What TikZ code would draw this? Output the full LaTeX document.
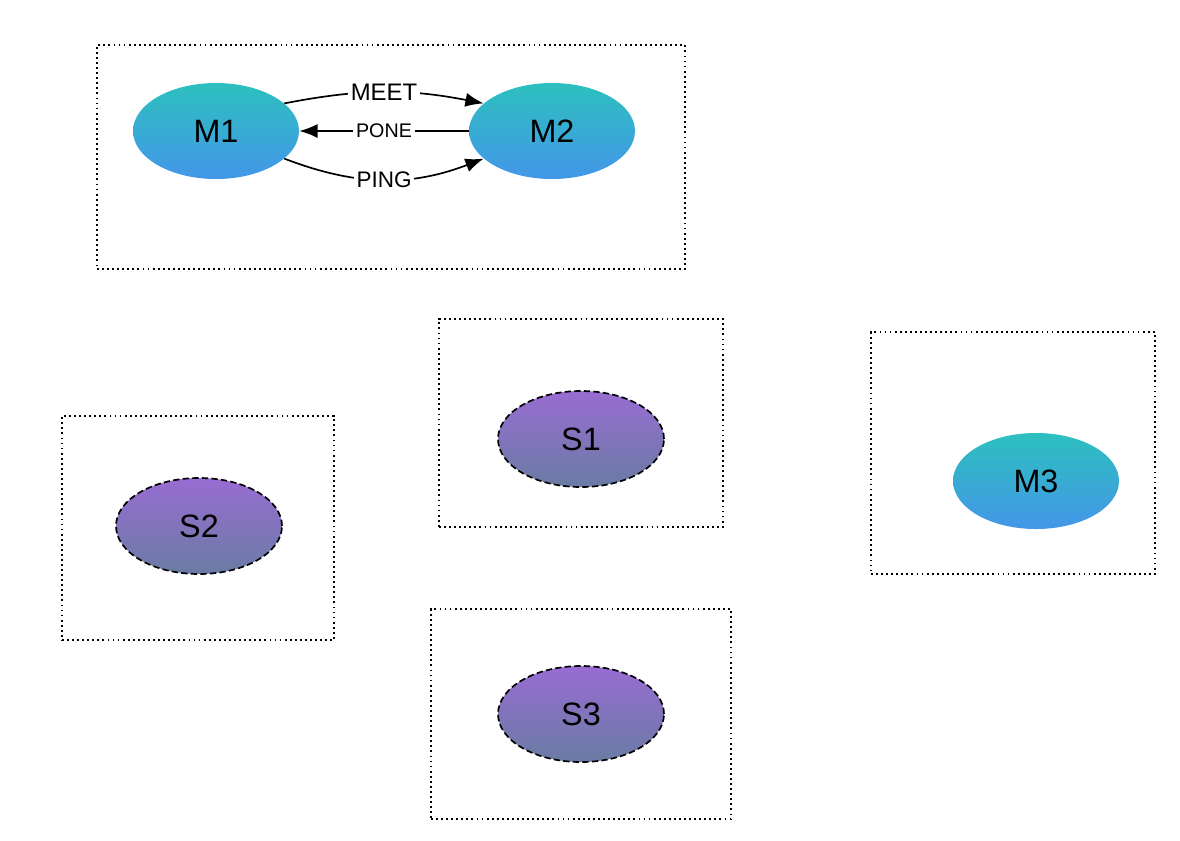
\documentclass[tikz,border=0pt]{standalone}
\usepackage{fontspec}
\setmainfont{Liberation Sans}
\usetikzlibrary{shapes.geometric,arrows.meta}
\definecolor{masterTop}{RGB}{44, 192, 190}
\definecolor{masterBottom}{RGB}{68, 150, 232}
\definecolor{slaveTop}{RGB}{152, 108, 210}
\definecolor{slaveBottom}{RGB}{106, 124, 164}

\begin{document}
\begin{tikzpicture}[
      frame/.style={draw, line width=1.1pt, dash pattern=on 1.3pt off 2.3pt, inner sep=0pt},
      master/.style={ellipse, minimum width=4.15cm, minimum height=2.4cm, inner sep=0pt,
        top color=masterTop, bottom color=masterBottom, font=\fontsize{23}{27}\selectfont},
      slave/.style={master, top color=slaveTop, bottom color=slaveBottom,
        draw, line width=1.2pt, dash pattern=on 4.5pt off 2.3pt},
      msg/.style={fill=white, inner sep=2pt},
      arrow/.style={-{Latex[length=13pt, width=10pt]}, line width=1.2pt}
    ]
      \useasboundingbox (0,0) rectangle (29.5,-21);

      % Frames
      \node[frame, minimum width=14.7cm, minimum height=5.6cm] (frameM) at (9.775,-3.925) {};
      \node[frame, minimum width=7.1cm, minimum height=5.2cm] (frameSone) at (14.525,-10.575) {};
      \node[frame, minimum width=7.1cm, minimum height=6.05cm] (frameMthree) at (25.325,-11.325) {};
      \node[frame, minimum width=6.8cm, minimum height=5.6cm] (frameStwo) at (4.95,-13.2) {};
      \node[frame, minimum width=7.5cm, minimum height=5.25cm] (frameSthree) at (14.525,-17.85) {};

      % Masters
      \node[master] (m1) at (5.4,-3.275) {M1};
      \node[master] (m2) at (13.8,-3.275) {M2};
      \node[master] (m3) at (25.9,-12.025) {M3};

      % Slaves
      \node[slave] (s1) at (14.525,-10.975) {S1};
      \node[slave] (s2) at (4.975,-13.15) {S2};
      \node[slave] (s3) at (14.525,-17.85) {S3};

      % Messages
      \draw[arrow] (m1.22) to[bend left=11] node[msg, font=\fontsize{17}{20}\selectfont] {MEET} (m2.158);
      \draw[arrow] (m2) -- node[msg, font=\fontsize{14}{17}\selectfont] {PONE} (m1);
      \draw[arrow] (m1.-22) to[bend right=21] node[msg, font=\fontsize{16}{19}\selectfont] {PING} (m2.-158);
    \end{tikzpicture}
\end{document}
